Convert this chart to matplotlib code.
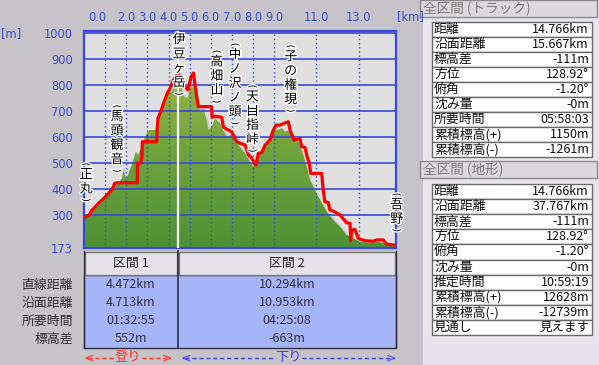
import numpy as np
import matplotlib
matplotlib.use("Agg")
from matplotlib import pyplot as plt
from matplotlib.patches import Polygon, Rectangle
from matplotlib.colors import LinearSegmentedColormap
from matplotlib.lines import Line2D
from matplotlib import patheffects as pe
from matplotlib import transforms

plt.rcParams['font.family'] = ['Noto Sans CJK JP', 'DejaVu Sans']

# ---- data ----
terrain_km = [0.0, 0.38, 0.71, 1.04, 1.33, 1.56, 1.80, 1.89, 1.94, 2.05, 2.29, 2.45, 2.56, 2.70,
              2.92, 3.08, 3.39, 3.55, 3.79, 4.02, 4.18, 4.39, 4.50, 4.59, 4.73, 4.89, 5.05, 5.17,
              5.33, 5.49, 5.65, 5.81, 5.88, 6.04, 6.20, 6.44, 6.59, 6.75, 6.99, 7.15, 7.38, 7.62,
              7.86, 8.01, 8.17, 8.41, 8.65, 8.88, 9.04, 9.20, 9.36, 9.51, 9.66, 9.83, 10.07, 10.14,
              10.38, 10.54, 10.70, 10.93, 11.17, 11.49, 11.80, 12.12, 12.43, 12.74, 13.06, 13.54,
              13.93, 14.16, 14.48, 14.766]
terrain_m = [288, 310, 340, 370, 395, 420, 440, 480, 445, 447, 499, 543, 530, 560,
             608, 627, 627, 691, 730, 768, 781, 812, 815, 800, 755, 749, 794, 796,
             742, 704, 708, 665, 627, 640, 672, 653, 627, 601, 610, 588, 563, 537,
             505, 486, 518, 543, 576, 614, 630, 627, 635, 620, 625, 601, 585, 582,
             531, 486, 435, 396, 358, 313, 281, 255, 223, 210, 197, 192,
             197, 192, 181, 180]

track_km = [0.08, 0.24, 0.39, 0.71, 0.95, 1.14, 1.34, 1.45, 1.58, 2.52, 2.53, 2.68, 2.74, 2.76,
            3.44, 3.46, 3.50, 3.63, 3.79, 3.94, 4.07, 4.23, 4.34, 4.46, 4.59, 4.73, 4.92, 5.06,
            5.18, 5.30, 5.41, 6.04, 6.06, 6.20, 6.52, 6.59, 6.75, 6.99, 7.23, 7.38, 7.62, 7.78,
            7.94, 8.09, 8.14, 8.25, 8.41, 8.57, 8.80, 8.96, 9.09, 9.28, 9.47, 9.67, 9.75, 9.91,
            9.94, 10.22, 10.30, 10.46, 10.54, 10.66, 10.73, 11.25, 11.32, 11.40, 11.56, 11.64,
            11.80, 12.12, 12.43, 12.59, 12.62, 12.67, 12.82, 12.98, 13.30, 13.69, 13.85, 14.16,
            14.32, 14.71]
track_m = [293, 300, 319, 347, 365, 381, 399, 422, 424, 424, 499, 499, 524, 582,
           582, 627, 672, 697, 736, 768, 787, 819, 832, 846, 830, 800, 781, 830,
           846, 774, 717, 717, 676, 680, 676, 640, 630, 620, 582, 576, 570, 531,
           518, 499, 492, 537, 540, 569, 588, 627, 646, 646, 653, 659, 627, 595,
           588, 595, 563, 560, 531, 499, 460, 460, 396, 351, 348, 319,
           315, 300, 270, 268, 201, 242, 245, 210, 201, 199, 204, 204,
           188, 184]

split_km = 4.472
total_km = 14.766
y_min = 173

grid_km = [1, 2, 3, 4, 5, 6, 7, 8, 9, 11, 13]
xlabel_km = [0, 2, 3, 4, 5, 6, 7, 8, 9, 11, 13]
ytick_m = [173, 300, 400, 500, 600, 700, 800, 900, 1000]

place_names = ["正丸", "馬頭観音", "伊豆ヶ岳", "高畑山", "中ノ沢ノ頭", "天目指峠", "子の権現", "吾野"]
place_km = [0.10, 1.56, 4.50, 6.28, 7.15, 7.97, 9.78, 14.80]
place_top_m = [481, 704, 1000, 915, 942, 781, 935, 365]
place_open = [True, True, False, True, True, True, True, True]

section_headers = ["区間 1", "区間 2"]
section_rows = ["直線距離", "沿面距離", "所要時間", "標高差"]
section1_vals = ["4.472km", "4.713km", "01:32:55", "552m"]
section2_vals = ["10.294km", "10.953km", "04:25:08", "-663m"]

track_title = "全区間 (トラック)"
track_labels = ["距離", "沿面距離", "標高差", "方位", "俯角", "沈み量", "所要時間", "累積標高(+)", "累積標高(-)"]
track_vals = ["14.766km", "15.667km", "-111m", "128.92°", "-1.20°", "-0m", "05:58:03", "1150m", "-1261m"]

terrain_title = "全区間 (地形)"
terrain_labels = ["距離", "沿面距離", "標高差", "方位", "俯角", "沈み量", "推定時間", "累積標高(+)", "累積標高(-)", "見通し"]
terrain_vals = ["14.766km", "37.767km", "-111m", "128.92°", "-1.20°", "-0m", "10:59:19", "12628m", "-12739m", "見えます"]

# ---- layout helpers (pixel -> figure coords) ----
W, H = 599, 365
BLUE = '#3848d8'
LBLUE = '#3a4ad0'


def fx(x):
    return x / W


def fy(y):
    return 1 - y / H


def rect(fig, x0, y0, x1, y1, fc, ec='none', lw=1.0, z=1):
    fig.add_artist(Rectangle((fx(x0), fy(y1)), fx(x1) - fx(x0), fy(y0) - fy(y1),
                             transform=fig.transFigure, facecolor=fc, edgecolor=ec, lw=lw, zorder=z))


fig = plt.figure(figsize=(W / 100, H / 100), dpi=100)
fig.patch.set_facecolor('#c6c4c8')

ax = fig.add_axes([fx(84), fy(248), 312 / W, 217 / H])
ax.set_facecolor('#e0e0e0')

# light edge behind the terrain
ax.fill_between(np.array(terrain_km) + 0.07, np.array(terrain_m) + 3, y_min,
                color='#d0d4c8', lw=0, zorder=1.5)

cmap = LinearSegmentedColormap.from_list('terrain_g', ['#4e9236', '#6da23c', '#98b646'])
grad = np.linspace(0, 1, 256).reshape(-1, 1)
im = ax.imshow(grad, extent=[0, total_km, y_min, 860], origin='lower', aspect='auto',
               cmap=cmap, zorder=2)
verts = np.column_stack([terrain_km + [terrain_km[-1], terrain_km[0]],
                         terrain_m + [y_min, y_min]])
poly = Polygon(verts, closed=True, facecolor='none', edgecolor='none', transform=ax.transData)
ax.add_patch(poly)
im.set_clip_path(poly)

for m in ytick_m[1:]:
    ax.axhline(m, color=BLUE, lw=1.2, zorder=3)
for k in grid_km:
    ax.axvline(k, color=BLUE, lw=1.0, ls=(0, (1, 2)), zorder=3)

ax.axvline(split_km, color='white', lw=1.6, zorder=4)
ax.plot(track_km, track_m, color='#ff0000', lw=2.3, zorder=6)

ax.set_xlim(0, total_km)
ax.set_ylim(y_min, 1008)
ax.set_xticks([])
ax.set_yticks(ytick_m)
ax.set_yticklabels([str(v) for v in ytick_m], color=LBLUE, fontsize=8.3, fontfamily='DejaVu Sans')
ax.tick_params(length=0, pad=8)
for s in ax.spines.values():
    s.set_color(BLUE)
    s.set_linewidth(1.6)

# top km labels
trans = transforms.blended_transform_factory(ax.transData, ax.transAxes)
for k in xlabel_km:
    if k == 0:
        ax.text(k + 0.2, 1.064, "%.1f" % k, transform=trans, ha='left', va='center',
                color=LBLUE, fontsize=8.3, fontfamily='DejaVu Sans')
    else:
        ax.text(k, 1.064, "%.1f" % k, transform=trans, ha='center', va='center',
                color=LBLUE, fontsize=8.3, fontfamily='DejaVu Sans')
fig.text(fx(410), fy(17), "[km]", ha='center', va='center', color=LBLUE, fontsize=8.3,
         fontfamily='DejaVu Sans')
fig.text(fx(11), fy(34), "[m]", ha='center', va='center', color=LBLUE, fontsize=8.3,
         fontfamily='DejaVu Sans')

# vertical place names
halo = [pe.withStroke(linewidth=2, foreground='white')]
step = 14.3 * 0.72
for name, k, top, op in zip(place_names, place_km, place_top_m, place_open):
    for i, ch in enumerate(name):
        ax.annotate(ch, xy=(k, top), xytext=(0, -(6.8 * 0.72 + i * step)),
                    textcoords='offset points', ha='center', va='center', fontsize=9.3,
                    color='black', zorder=8, annotation_clip=False, path_effects=halo)
    if op:
        ax.annotate("(", xy=(k, top), xytext=(0, 2.5), textcoords='offset points',
                    ha='center', va='center', rotation=-90, fontsize=7, color='black',
                    fontfamily='DejaVu Sans', zorder=8, annotation_clip=False, path_effects=halo)
    ax.annotate(")", xy=(k, top), xytext=(0, -(len(name) * step + 2.5)), textcoords='offset points',
                ha='center', va='center', rotation=-90, fontsize=7, color='black',
                fontfamily='DejaVu Sans', zorder=8, annotation_clip=False, path_effects=halo)

# ---- section table under the chart ----
rect(fig, 84, 275, 396, 348, '#a6b4f8', ec='#303040', lw=1.0)
rect(fig, 85, 252, 177, 275, '#e6e2ea', ec='#787878', lw=1.0)
rect(fig, 179, 252, 395, 275, '#e6e2ea', ec='#787878', lw=1.0)
fig.add_artist(Line2D([fx(84), fx(84)], [fy(251), fy(348)], color='#303040', lw=1))
fig.add_artist(Line2D([fx(396), fx(396)], [fy(251), fy(348)], color='#303040', lw=1))
fig.add_artist(Line2D([fx(178), fx(178)], [fy(251), fy(348)], color='#303040', lw=1.2))
col_x = [131, 287]
fig.text(fx(col_x[0]), fy(263.5), section_headers[0], ha='center', va='center', fontsize=9.3, color='#202020')
fig.text(fx(col_x[1]), fy(263.5), section_headers[1], ha='center', va='center', fontsize=9.3, color='#202020')
row_y = [285, 303, 321, 339]
for lab, v1, v2, yy in zip(section_rows, section1_vals, section2_vals, row_y):
    fig.text(fx(73), fy(yy), lab, ha='right', va='center', fontsize=9.3, color='#303030')
    fig.text(fx(col_x[0]), fy(yy), v1, ha='center', va='center', fontsize=9.0, color='#303040')
    fig.text(fx(col_x[1]), fy(yy), v2, ha='center', va='center', fontsize=9.0, color='#303040')

# up / down arrows
for x0, x1, xc, word, col in [(84, 172, 128, "登り", '#ff3030'), (181, 396, 288, "下り", '#3c3cf0')]:
    fig.text(fx(x0), fy(358), "<", ha='left', va='center', fontsize=9, color=col, fontfamily='DejaVu Sans')
    fig.text(fx(x1), fy(358), ">", ha='right', va='center', fontsize=9, color=col, fontfamily='DejaVu Sans')
    fig.text(fx(xc), fy(358), word, ha='center', va='center', fontsize=9.5, color=col)
    fig.add_artist(Line2D([fx(x0 + 4), fx(xc - 14)], [fy(358)] * 2, color=col, lw=1, ls=(0, (3, 2))))
    fig.add_artist(Line2D([fx(xc + 14), fx(x1 - 4)], [fy(358)] * 2, color=col, lw=1, ls=(0, (3, 2))))

# ---- right-hand info panel ----
rect(fig, 423, 0, 599, 365, '#e8e4ec')


def info_block(title, labels, values, y_head, y_table, row_h):
    rect(fig, 420, y_head, 597, y_head + 17, '#dcd8dc', ec='#8a8a8a', lw=1.0, z=2)
    fig.text(fx(423), fy(y_head + 8.5), title, ha='left', va='center', fontsize=9.8, color='#7a7a7a', zorder=3)
    for i, (lab, val) in enumerate(zip(labels, values)):
        y0 = y_table + i * row_h
        rect(fig, 432, y0, 592, y0 + row_h, 'white', ec='#6a6a6a', lw=1.0, z=2)
        fig.text(fx(434), fy(y0 + row_h / 2), lab, ha='left', va='center', fontsize=9.3, color='#101010', zorder=3)
        fig.text(fx(589), fy(y0 + row_h / 2), val, ha='right', va='center', fontsize=9.0, color='#101010', zorder=3)


info_block(track_title, track_labels, track_vals, 0, 22, 15.0)
info_block(terrain_title, terrain_labels, terrain_vals, 161, 184, 15.1)

fig.savefig("out.png", dpi=100, facecolor=fig.get_facecolor())
